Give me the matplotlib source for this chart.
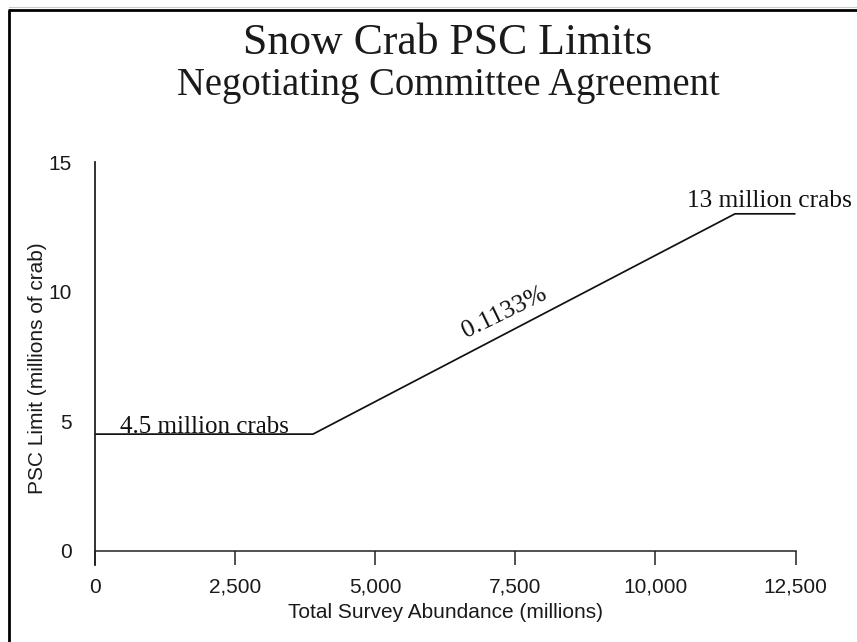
import matplotlib
matplotlib.use("Agg")
import matplotlib.pyplot as plt
from matplotlib.lines import Line2D

# Data
abundance = [0, 3890, 11420, 12500]        # millions
psc_limit = [4.5, 4.5, 13.0, 13.0]         # millions of crab
x_ticks = [0, 2500, 5000, 7500, 10000, 12500]
x_tick_labels = ["0", "2,500", "5,000", "7,500", "10,000", "12,500"]
y_ticks = [0, 5, 10, 15]
y_tick_labels = ["0", "5", "10", "15"]

W, H = 857, 642
fig = plt.figure(figsize=(W / 100, H / 100), dpi=100)
fig.patch.set_facecolor("white")

serif = "Liberation Serif"
sans = "Liberation Sans"

# axes placement (pixels)
x0_px, x1_px = 95, 795.5
top_px, bot_px = 162, 565
ax = fig.add_axes([x0_px / W, 1 - bot_px / H, (x1_px - x0_px) / W, (bot_px - top_px) / H])
ax.set_xlim(0, 12500)
ax.set_ylim(-0.55, 15)

ax.plot(abundance, psc_limit, color="#111111", lw=1.25, solid_capstyle="butt")

for s in ["top", "right"]:
    ax.spines[s].set_visible(False)
ax.spines["bottom"].set_position(("data", 0))
ax.spines["bottom"].set_linewidth(1.1)
ax.spines["bottom"].set_color("#222222")
ax.spines["left"].set_linewidth(1.3)
ax.spines["left"].set_color("#222222")

ax.set_xticks(x_ticks)
ax.set_xticklabels(x_tick_labels, fontfamily=sans, fontsize=15, color="#1a1a1a")
ax.set_yticks(y_ticks)
ax.set_yticklabels(y_tick_labels, fontfamily=sans, fontsize=15, color="#1a1a1a")
ax.tick_params(axis="x", direction="out", length=10, width=1.1, pad=9.5, color="#222222")
ax.tick_params(axis="y", length=0, pad=16.5)

ax.set_xlabel("Total Survey Abundance (millions)", fontfamily=sans, fontsize=15, color="#1a1a1a")
ax.xaxis.set_label_coords((445 - x0_px) / (x1_px - x0_px), -(613 - bot_px) / (bot_px - top_px))
ax.xaxis.label.set_va("center")
ax.set_ylabel("PSC Limit (millions of crab)", fontfamily=sans, fontsize=15, color="#1a1a1a")
ax.yaxis.set_label_coords(-(x0_px - 38) / (x1_px - x0_px), (bot_px - 368) / (bot_px - top_px))
ax.yaxis.label.set_va("center")

# annotations
ax.text(450, 4.54, "4.5 million crabs", fontfamily=serif, fontsize=18,
        ha="left", va="baseline", color="#111111")
ax.text(10570, 13.25, "13 million crabs", fontfamily=serif, fontsize=18.3,
        ha="left", va="baseline", color="#111111")
ax.text(6620, 8.2, "0.1133%", fontfamily=serif, fontsize=18.5, rotation=26,
        rotation_mode="anchor", ha="left", va="baseline", color="#111111")

# titles
fig.text(448 / W, 1 - 54 / H, "Snow Crab PSC Limits", fontfamily=serif, fontsize=31.5,
         ha="center", va="baseline", color="#1a1a1a")
fig.text(448 / W, 1 - 95 / H, "Negotiating Committee Agreement", fontfamily=serif, fontsize=27.8,
         ha="center", va="baseline", color="#1a1a1a")

# scan frame (left and top)
fig.add_artist(Line2D([9 / W, 9 / W], [0, 1 - 10 / H], transform=fig.transFigure,
                      color="black", lw=2.0, solid_capstyle="butt"))
fig.add_artist(Line2D([8 / W, 1], [1 - 10 / H, 1 - 10 / H], transform=fig.transFigure,
                      color="black", lw=2.0, solid_capstyle="butt"))
fig.add_artist(Line2D([9 / W, 1], [1 - 7 / H, 1 - 7 / H], transform=fig.transFigure,
                      color="#cccccc", lw=0.8))

fig.savefig("out.png", dpi=100, facecolor="white")
